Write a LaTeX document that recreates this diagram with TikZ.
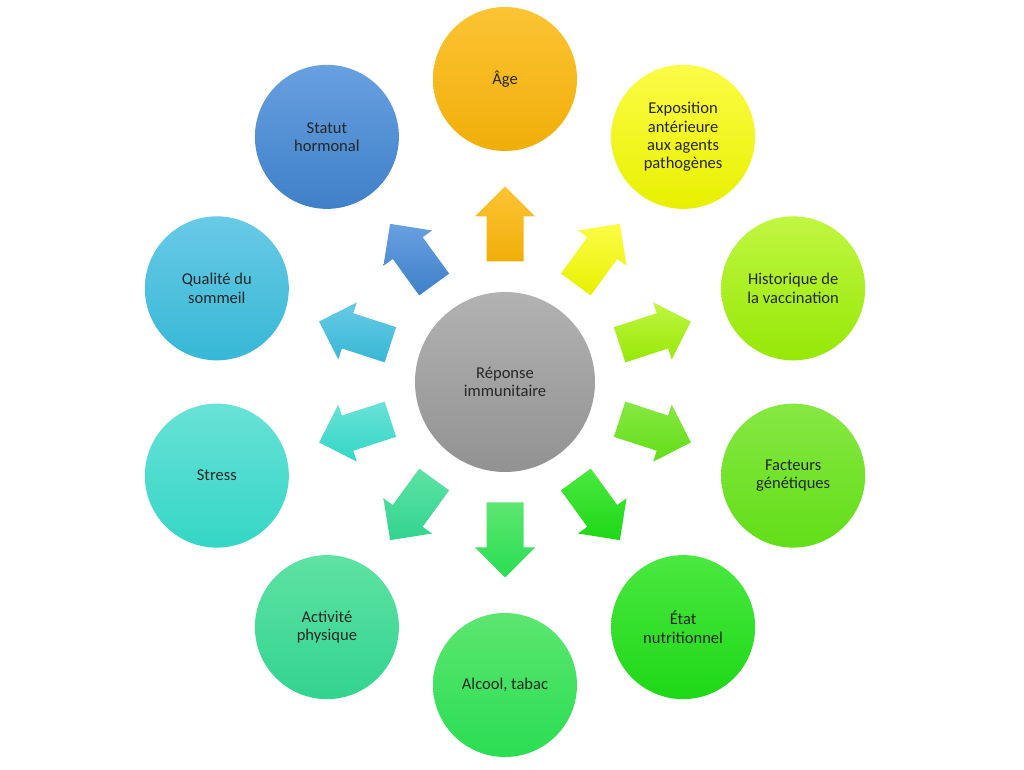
\documentclass[tikz,border=0pt]{standalone}
\usepackage{fontspec}
\setmainfont{Carlito}
\usetikzlibrary{calc}

\definecolor{hubT}{RGB}{178,178,178}
\definecolor{hubB}{RGB}{146,146,146}
\definecolor{ageT}{RGB}{252,196,52}
\definecolor{ageB}{RGB}{240,174,8}
\definecolor{expoT}{RGB}{252,252,70}
\definecolor{expoB}{RGB}{232,240,0}
\definecolor{vaccT}{RGB}{192,246,64}
\definecolor{vaccB}{RGB}{150,232,8}
\definecolor{geneT}{RGB}{134,232,66}
\definecolor{geneB}{RGB}{98,222,24}
\definecolor{nutrT}{RGB}{74,232,64}
\definecolor{nutrB}{RGB}{30,216,22}
\definecolor{alcoT}{RGB}{92,230,112}
\definecolor{alcoB}{RGB}{42,222,82}
\definecolor{actiT}{RGB}{94,226,164}
\definecolor{actiB}{RGB}{50,212,142}
\definecolor{strsT}{RGB}{104,226,214}
\definecolor{strsB}{RGB}{52,214,198}
\definecolor{slepT}{RGB}{104,202,230}
\definecolor{slepB}{RGB}{54,184,214}
\definecolor{hormT}{RGB}{104,160,224}
\definecolor{hormB}{RGB}{62,128,200}

\begin{document}
\begin{tikzpicture}[
  x=0.75pt, y=0.75pt,
  every node/.style={font=\fontsize{12.4}{13.6}\selectfont, text=black!85, align=center, inner sep=0pt},
  hub/.style={circle, minimum size=135pt, top color=hubT, bottom color=hubB},
  factor/.style={circle, minimum size=108pt}
]
\useasboundingbox (0,0) rectangle (1024,770);
\node[hub] (rep) at (505,388) {Réponse\\immunitaire};
% outer factors and their arrows
\foreach \ang/\nm/\txt in {
    90/age/{Âge},
    54/expo/{Exposition\\antérieure\\aux agents\\pathogènes},
    18/vacc/{Historique de\\la vaccination},
    -18/gene/{Facteurs\\génétiques},
    -54/nutr/{État\\nutritionnel},
    -90/alco/{Alcool, tabac},
    -126/acti/{Activité\\physique},
    198/strs/{Stress},
    162/slep/{Qualité du\\sommeil},
    126/horm/{Statut\\hormonal}} {
  \node[factor, top color=\nm T, bottom color=\nm B] (\nm) at ($(rep)+(\ang:303)$) {\txt};
  \coordinate (\nm arr) at ($(rep)+(\ang:158)$);
  \shade[top color=\nm T, bottom color=\nm B, shift={(\nm arr)}, rotate=\ang]
    (-37.5,-18.5) -- (7.5,-18.5) -- (7.5,-30) -- (37.5,0) -- (7.5,30) -- (7.5,18.5) -- (-37.5,18.5) -- cycle;
}
\end{tikzpicture}
\end{document}
